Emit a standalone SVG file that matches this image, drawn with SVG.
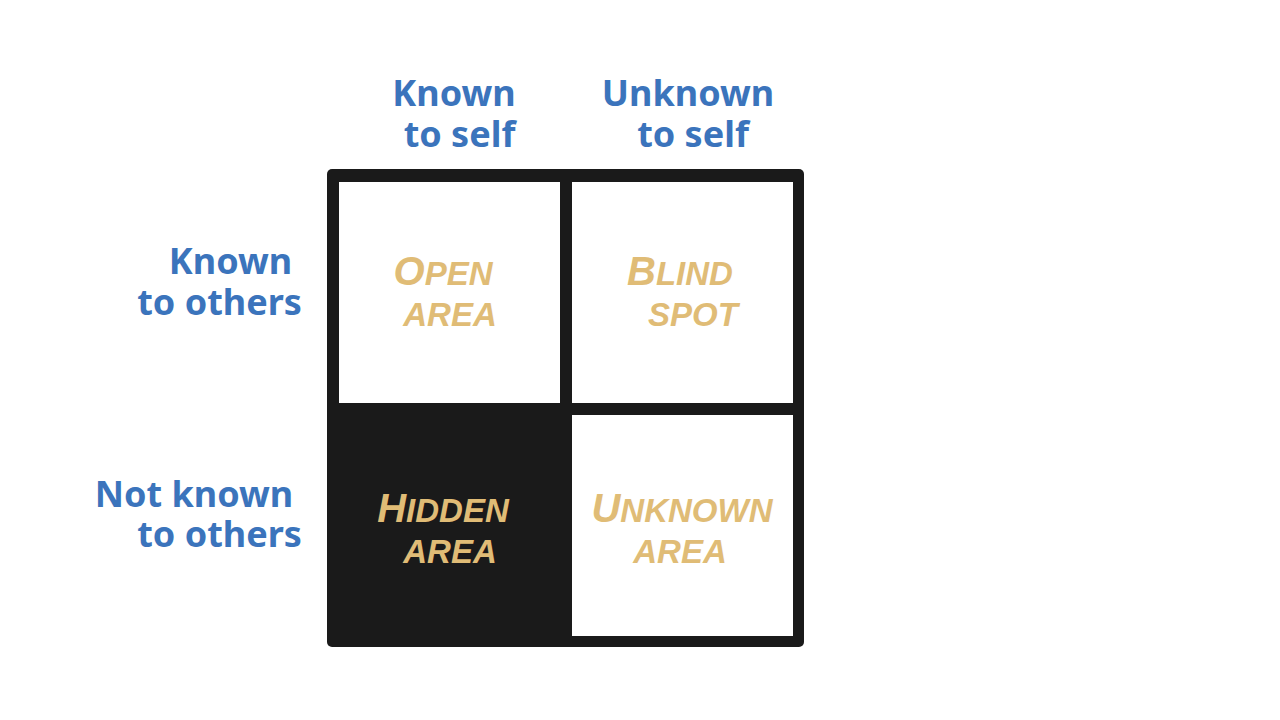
<svg xmlns="http://www.w3.org/2000/svg" width="1280" height="720" viewBox="0 0 1280 720">
<style>
.hdr{font-family:"Noto Sans","Open Sans","Liberation Sans",sans-serif;font-weight:700;font-size:36px;fill:#3B74BC;text-anchor:middle}
.cell{font-family:"Liberation Sans",Arial,sans-serif;font-weight:700;font-style:italic;font-size:33px;fill:#E0BC76;text-anchor:middle}
.big{font-size:40px}
.white{fill:#ffffff}
</style>
<rect width="1280" height="720" fill="#ffffff"/>
<g id="headers">
<text class="hdr" x="454" y="106">Known</text>
<text class="hdr" x="459.5" y="147">to self</text>
<text class="hdr" x="688" y="106">Unknown</text>
<text class="hdr" x="693" y="147">to self</text>
<text class="hdr" x="230.5" y="274">Known</text>
<text class="hdr" x="219.5" y="315">to others</text>
<text class="hdr" x="194" y="507">Not known</text>
<text class="hdr" x="219.5" y="547">to others</text>
</g>
<g id="grid">
<rect x="327" y="169" width="477" height="478" rx="5" fill="#1a1a1a"/>
</g>
<g id="open-area">
<rect class="white" x="339" y="182" width="221" height="221"/>
<text class="cell" x="443" y="285"><tspan class="big">O</tspan>PEN</text>
<text class="cell" x="450" y="326">AREA</text>
</g>
<g id="blind-spot">
<rect class="white" x="572" y="182" width="221" height="221"/>
<text class="cell" x="680" y="285"><tspan class="big">B</tspan>LIND</text>
<text class="cell" x="693" y="326">SPOT</text>
</g>
<g id="hidden-area">
<text class="cell" x="443" y="522"><tspan class="big">H</tspan>IDDEN</text>
<text class="cell" x="450" y="563">AREA</text>
</g>
<g id="unknown-area">
<rect class="white" x="572" y="415" width="221" height="221"/>
<text class="cell" x="682" y="522"><tspan class="big">U</tspan>NKNOWN</text>
<text class="cell" x="680" y="563">AREA</text>
</g>
<g id="connectors"></g>
</svg>
